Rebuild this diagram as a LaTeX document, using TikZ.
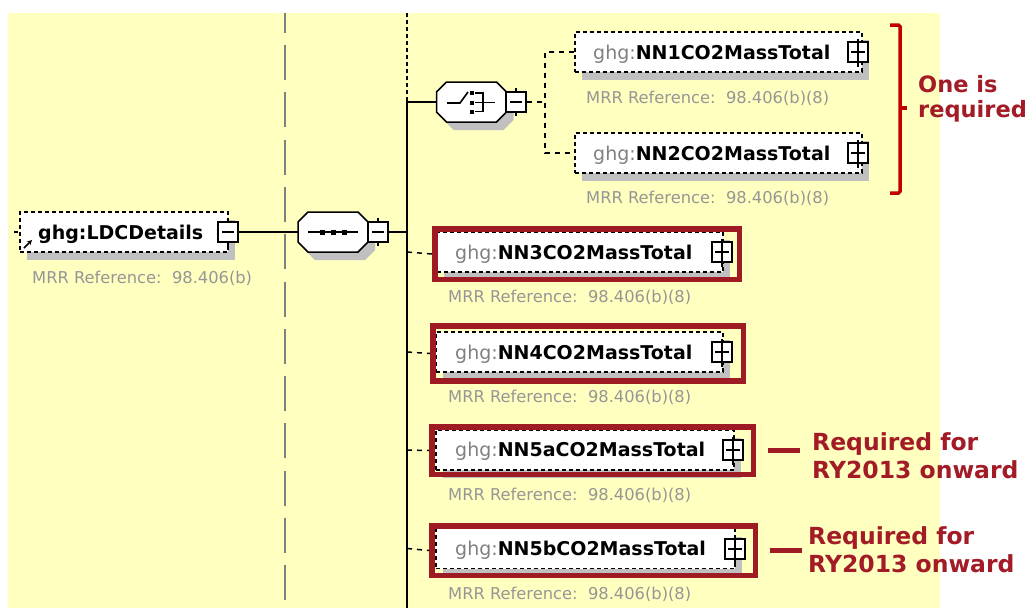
\documentclass[tikz,border=0pt]{standalone}
\usepackage{fontspec}
\setmainfont{DejaVu Sans}
\usetikzlibrary{arrows.meta}
\definecolor{bgyellow}{RGB}{255,255,192}
\definecolor{shadowgray}{RGB}{192,192,192}
\definecolor{ghggray}{RGB}{128,128,128}
\definecolor{mrrgray}{RGB}{150,150,150}
\definecolor{framered}{RGB}{158,27,35}
\definecolor{labelred}{RGB}{163,27,38}
\definecolor{bracered}{RGB}{192,0,0}
\definecolor{guidegray}{RGB}{128,128,128}
\tikzset{
  elbox/.style={draw, fill=white, line width=1.4pt, dash pattern=on 4pt off 3pt,
    inner sep=0pt, minimum height=40pt,
    preaction={draw=none, fill=shadowgray, transform canvas={xshift=7pt,yshift=-8pt}}},
  sqbox/.style={draw, fill=white, line width=1.4pt, inner sep=0pt, minimum size=20pt},
  elname/.style={anchor=base west, inner sep=0pt, font=\fontsize{19pt}{23pt}\selectfont},
  mrr/.style={anchor=base west, inner sep=0pt, text=mrrgray, font=\fontsize{16.3pt}{19pt}\selectfont},
  redframe/.style={draw=framered, line width=5.5pt, inner sep=0pt},
  conn/.style={line width=1.5pt},
  dconn/.style={line width=1.5pt, dash pattern=on 5pt off 5pt},
  note/.style={anchor=base west, inner sep=0pt, text=labelred, font=\fontsize{23.5pt}{28pt}\selectfont\bfseries},
  icon/.style={line width=1.6pt}
}
\newcommand\xplusbox[2]{%
  \node[sqbox] (#1) at (#2) {};
  \draw[line width=1.6pt] ([xshift=-7pt]#1.center) -- ([xshift=7pt]#1.center);
  \draw[line width=1.6pt] ([yshift=2pt]#1.north) -- ([yshift=-4pt]#1.south);
}
\newcommand\xminusbox[2]{%
  \node[sqbox] (#1) at (#2) {};
  \draw[line width=1.6pt] ([xshift=-6pt]#1.center) -- ([xshift=6pt]#1.center);
  \draw[line width=1.4pt] ([yshift=3pt]#1.north) -- (#1.north) (#1.south) -- ([yshift=-3pt]#1.south);
}
\newcommand\xocto[3]{%
  \node[inner sep=0pt, minimum width=70pt, minimum height=40pt] (#1) at (#2,#3) {};
  \begin{scope}[shift={(#2+7,#3+8)}]
    \fill[shadowgray] (-25,-20) -- (25,-20) -- (35,-10) -- (35,10) -- (25,20) -- (-25,20) -- (-35,10) -- (-35,-10) -- cycle;
  \end{scope}
  \begin{scope}[shift={(#2,#3)}]
    \draw[line width=1.5pt, fill=white] (-25,-20) -- (25,-20) -- (35,-10) -- (35,10) -- (25,20) -- (-25,20) -- (-35,10) -- (-35,-10) -- cycle;
  \end{scope}
}
\begin{document}
\begin{tikzpicture}[x=1pt,y=-1pt]
\useasboundingbox (0,0) rectangle (1030,608);
\fill[white] (0,0) rectangle (1030,608);
\fill[bgyellow] (8,13) rectangle (940,608);

% guide line
\draw[guidegray, line width=1.8pt, dash pattern=on 35pt off 12.3pt, dash phase=15.3pt] (285,13) -- (285,608);

% bus
\coordinate (bustop) at (407,13);
\coordinate (busmid) at (407,99);
\coordinate (busbot) at (407,608);
\draw[line width=1.5pt, dash pattern=on 3.5pt off 3.5pt] (bustop) -- (busmid);
\draw[conn] (busmid) -- (busbot);

% LDCDetails
\coordinate (ldcin) at (14,232);
\node[elbox, minimum width=208pt] (ldc) at (124,232) {};
\draw[line width=1.5pt, dash pattern=on 4pt off 10pt] (ldcin) -- (ldc.west);
\node[elname] (ldct) at (38,239) {\bfseries ghg:LDCDetails};
\draw[icon, -{Stealth[length=5pt,width=5pt]}] (24,248) -- (32,240);
\xminusbox{ldcm}{228,232}
\node[mrr] (ldcr) at (32,283) {MRR Reference:\ \ 98.406(b)};

% sequence
\xocto{seq}{333}{232}
\draw[icon] (308,232) -- (358,232);
\fill (319.5,229.5) rectangle (324.5,234.5);
\fill (330.5,229.5) rectangle (335.5,234.5);
\fill (341.5,229.5) rectangle (346.5,234.5);
\xminusbox{seqm}{378,232}
\draw[conn] (ldcm.east) -- (seq.west);
\draw[conn] (seqm.east) -- (seqm.east -| bustop);

% choice
\xocto{choice}{471.5}{102}
\draw[icon] (447,103) -- (460,103) -- (468,92);
\fill (469.5,91) rectangle (474,95);
\fill (469.5,100.5) rectangle (474,104.5);
\fill (469.5,109.5) rectangle (474,113.5);
\draw[icon] (475,93) -- (483,93) -- (483,111.5) -- (475,111.5);
\draw[icon] (475,102.5) -- (495,102.5);
\xminusbox{chm}{516,102}
\draw[conn] (choice.west -| bustop) -- (choice.west);
\coordinate (chbus) at (545,102);

% NN1 / NN2
\node[elbox, minimum width=287pt] (nn1) at (718.5,52) {};
\node[elname] (nn1t) at (593,59) {\textcolor{ghggray}{ghg:}\textbf{NN1CO2MassTotal}};
\xplusbox{nn1p}{858,52}
\node[mrr] (nn1r) at (586,103) {MRR Reference:\ \ 98.406(b)(8)};

\node[elbox, minimum width=287pt] (nn2) at (718.5,153) {};
\node[elname] (nn2t) at (593,160) {\textcolor{ghggray}{ghg:}\textbf{NN2CO2MassTotal}};
\xplusbox{nn2p}{858,153}
\node[mrr] (nn2r) at (586,203) {MRR Reference:\ \ 98.406(b)(8)};

\draw[dconn] (chm.east) -- (chbus);
\draw[dconn] (nn1.west) -- (nn1.west -| chbus) -- (nn2.west -| chbus) -- (nn2.west);

% NN3
\node[elbox, minimum width=286pt] (nn3) at (580,252) {};
\node[elname] (nn3t) at (455,259) {\textcolor{ghggray}{ghg:}\textbf{NN3CO2MassTotal}};
\node[redframe, minimum width=304.5pt, minimum height=50.5pt] (nn3f) at (587,254) {};
\xplusbox{nn3p}{722,252}
\node[mrr] (nn3r) at (448,302) {MRR Reference:\ \ 98.406(b)(8)};
\draw[dconn] (nn3.west -| bustop) -- (nn3f.west);

% NN4
\node[elbox, minimum width=287pt] (nn4) at (579.5,352) {};
\node[elname] (nn4t) at (455,359) {\textcolor{ghggray}{ghg:}\textbf{NN4CO2MassTotal}};
\node[redframe, minimum width=310.5pt, minimum height=55pt] (nn4f) at (588,353.5) {};
\xplusbox{nn4p}{722,352}
\node[mrr] (nn4r) at (448,402) {MRR Reference:\ \ 98.406(b)(8)};
\draw[dconn] (nn4.west -| bustop) -- (nn4f.west);

% NN5a
\node[elbox, minimum width=298pt] (nn5a) at (585,450) {};
\node[elname] (nn5at) at (455,456.5) {\textcolor{ghggray}{ghg:}\textbf{NN5aCO2MassTotal}};
\node[redframe, minimum width=321.5pt, minimum height=47.5pt] (nn5af) at (592.5,450.5) {};
\xplusbox{nn5ap}{733,450}
\node[mrr] (nn5ar) at (448,500) {MRR Reference:\ \ 98.406(b)(8)};
\draw[dconn] (nn5a.west -| bustop) -- (nn5af.west);

% NN5b
\node[elbox, minimum width=299pt] (nn5b) at (585.5,548.5) {};
\node[elname] (nn5bt) at (455,555) {\textcolor{ghggray}{ghg:}\textbf{NN5bCO2MassTotal}};
\node[redframe, minimum width=323.5pt, minimum height=49.5pt] (nn5bf) at (593.5,550.5) {};
\xplusbox{nn5bp}{735,549}
\node[mrr] (nn5br) at (448,599) {MRR Reference:\ \ 98.406(b)(8)};
\draw[dconn] (nn5b.west -| bustop) -- (nn5bf.west);

% annotations
\draw[bracered, line width=3.5pt, rounded corners=1.5pt] (890,25) -- (900,25) -- (900,193) -- (890,193);
\draw[bracered, line width=3.5pt] (900,108) -- (907,108);
\node[note, font=\fontsize{22.5pt}{27pt}\selectfont\bfseries] (onea) at (918,92) {One is};
\node[note, font=\fontsize{22.5pt}{27pt}\selectfont\bfseries] (oneb) at (918,117) {required};

\node[note] (lab5a1) at (812,450) {Required for};
\node[note] (lab5a2) at (812,478) {RY2013 onward};
\draw[framered, line width=4.5pt] ([xshift=12pt]nn5af.east) -- ([xshift=44pt]nn5af.east);

\node[note] (lab5b1) at (808,544) {Required for};
\node[note] (lab5b2) at (808,572) {RY2013 onward};
\draw[framered, line width=4.5pt] ([xshift=12pt]nn5bf.east) -- ([xshift=44pt]nn5bf.east);
\end{tikzpicture}
\end{document}
